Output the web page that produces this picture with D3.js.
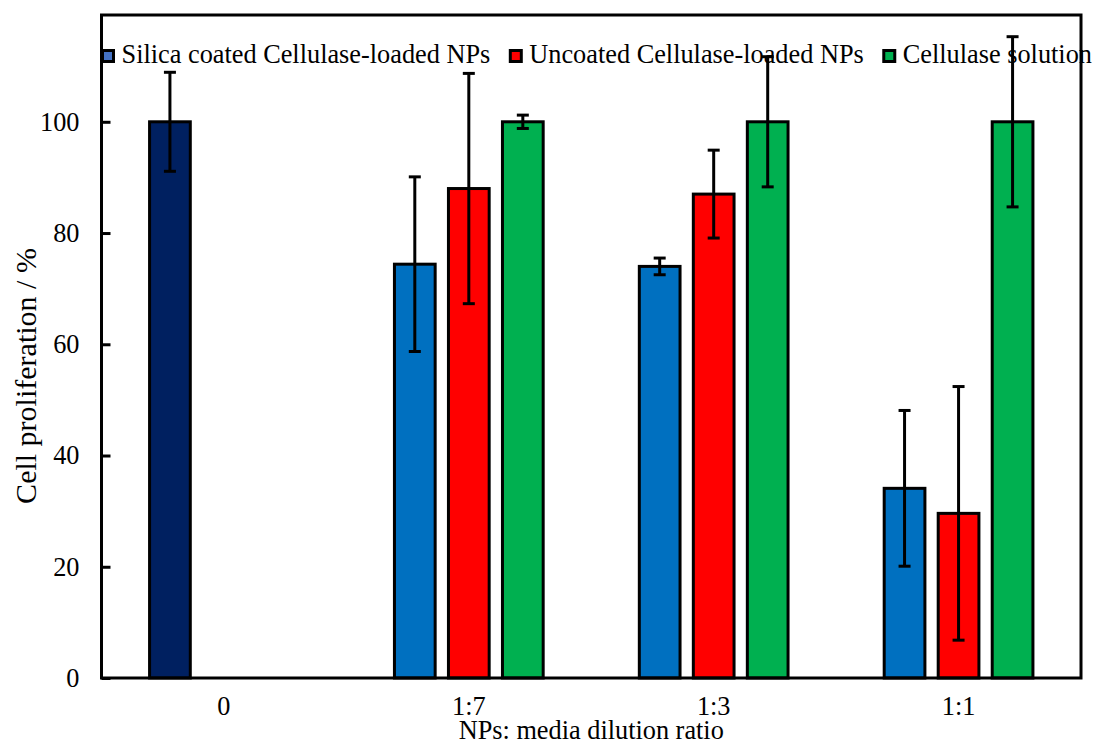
<!DOCTYPE html>
<html>
<head>
<meta charset="utf-8">
<script src="https://cdn.jsdelivr.net/npm/d3@7/dist/d3.min.js"></script>
<style>
  html, body { margin: 0; padding: 0; background: #fff; }
  svg { display: block; }
  text { font-family: "Liberation Serif", "Times New Roman", serif; fill: #000; }
</style>
</head>
<body>
<svg id="chart" width="1111" height="742"></svg>
<script>
// Dilution ratios on the x axis
const categories = ["0", "1:7", "1:3", "1:1"];

// Series names (legend order)
const seriesNames = [
  "Silica coated Cellulase-loaded NPs",
  "Uncoated Cellulase-loaded NPs",
  "Cellulase solution"
];

// Cell proliferation (%) per series; the "0" column holds the untreated control
const silicaValues   = [100, 74.4, 74.0, 34.1];
const uncoatedValues = [null, 88.0, 87.0, 29.6];
const solutionValues = [null, 100, 100, 100];

// Error bar half-widths (%)
const silicaErrors   = [8.9, 15.7, 1.5, 14.0];
const uncoatedErrors = [null, 20.7, 7.9, 22.8];
const solutionErrors = [null, 1.2, 11.7, 15.3];

const yTicks = [0, 20, 40, 60, 80, 100];

const barColors    = ["#0070C0", "#FF0000", "#00B050"];
const legendColors = ["#4472C4", "#FF0000", "#00B050"];
const controlColor = "#002060";

const values = [silicaValues, uncoatedValues, solutionValues];
const errors = [silicaErrors, uncoatedErrors, solutionErrors];

const FONT = "Liberation Serif, Times New Roman, serif";
const FS = 26.3;

const svg = d3.select("#chart");
const plotLeft = 101.5, plotRight = 1081, plotTop = 15, plotBottom = 678;

const x0 = d3.scaleBand().domain(categories).range([plotLeft, plotRight]).padding(0);
const x1 = d3.scaleBand().domain(seriesNames).range([0, x0.bandwidth()])
  .paddingInner(0.246).paddingOuter(0.89);
const y = d3.scaleLinear().domain([0, 119.2]).range([plotBottom, plotTop]);

// Flatten into mark records
const records = [];
categories.forEach((c, ci) => {
  seriesNames.forEach((s, si) => {
    const v = values[si][ci];
    if (v == null) return;
    records.push({
      cat: c, series: s, si, value: v, err: errors[si][ci],
      color: (c === "0" && si === 0) ? controlColor : barColors[si]
    });
  });
});

// Bars
svg.append("g").selectAll("rect").data(records).join("rect")
  .attr("x", d => x0(d.cat) + x1(d.series))
  .attr("y", d => y(d.value))
  .attr("width", x1.bandwidth())
  .attr("height", d => y(0) - y(d.value))
  .attr("fill", d => d.color)
  .attr("stroke", "#000")
  .attr("stroke-width", 3);

// Y axis ticks (inside) and labels
const yAxis = d3.axisLeft(y).tickValues(yTicks).tickSize(-9).tickPadding(22).tickFormat(d3.format("d"));
const gy = svg.append("g").attr("transform", `translate(${plotLeft},0)`).call(yAxis);
gy.attr("font-family", FONT);
gy.select(".domain").remove();
gy.selectAll(".tick line").attr("stroke", "#000").attr("stroke-width", 3);
gy.selectAll(".tick text").attr("font-size", FS).attr("font-family", FONT)
  .attr("fill", "#000").attr("dy", "0.32em");

// X axis labels (no tick marks)
const xAxis = d3.axisBottom(x0).tickSize(0).tickPadding(0);
const gx = svg.append("g").attr("transform", `translate(0,${plotBottom})`).call(xAxis);
gx.attr("font-family", FONT);
gx.select(".domain").remove();
gx.selectAll(".tick text").attr("font-size", FS).attr("font-family", FONT)
  .attr("fill", "#000").attr("y", 37).attr("dy", 0);

// Plot frame
svg.append("rect")
  .attr("x", plotLeft).attr("y", plotTop)
  .attr("width", plotRight - plotLeft).attr("height", plotBottom - plotTop)
  .attr("fill", "none").attr("stroke", "#000").attr("stroke-width", 3);

// Legend
const legend = svg.append("g").attr("transform", "translate(101,0)");
let lx = 0;
seriesNames.forEach((s, i) => {
  const g = legend.append("g").attr("transform", `translate(${lx},0)`);
  g.append("rect").attr("x", 1.5).attr("y", 50.5).attr("width", 11).attr("height", 11)
    .attr("fill", legendColors[i]).attr("stroke", "#000").attr("stroke-width", 3);
  const t = g.append("text").attr("x", 20.5).attr("y", 63).attr("font-size", FS)
    .attr("font-family", FONT).text(s);
  lx += 20.5 + t.node().getComputedTextLength() + 18.5;
});

// Error bars
const eb = svg.append("g").attr("stroke", "#000").attr("stroke-width", 3);
records.filter(d => d.err != null).forEach(d => {
  const cx = x0(d.cat) + x1(d.series) + x1.bandwidth() / 2;
  const y1 = y(d.value + d.err), y2 = y(d.value - d.err);
  eb.append("line").attr("x1", cx).attr("x2", cx).attr("y1", y1).attr("y2", y2);
  eb.append("line").attr("x1", cx - 6).attr("x2", cx + 6).attr("y1", y1).attr("y2", y1);
  eb.append("line").attr("x1", cx - 6).attr("x2", cx + 6).attr("y1", y2).attr("y2", y2);
});

// Axis titles
svg.append("text")
  .attr("transform", "translate(36,376) rotate(-90)")
  .attr("text-anchor", "middle").attr("font-size", 30).attr("font-family", FONT)
  .text("Cell proliferation / %");

svg.append("text")
  .attr("x", (plotLeft + plotRight) / 2).attr("y", 739)
  .attr("text-anchor", "middle").attr("font-size", FS).attr("font-family", FONT)
  .text("NPs: media dilution ratio");
</script>
</body>
</html>
